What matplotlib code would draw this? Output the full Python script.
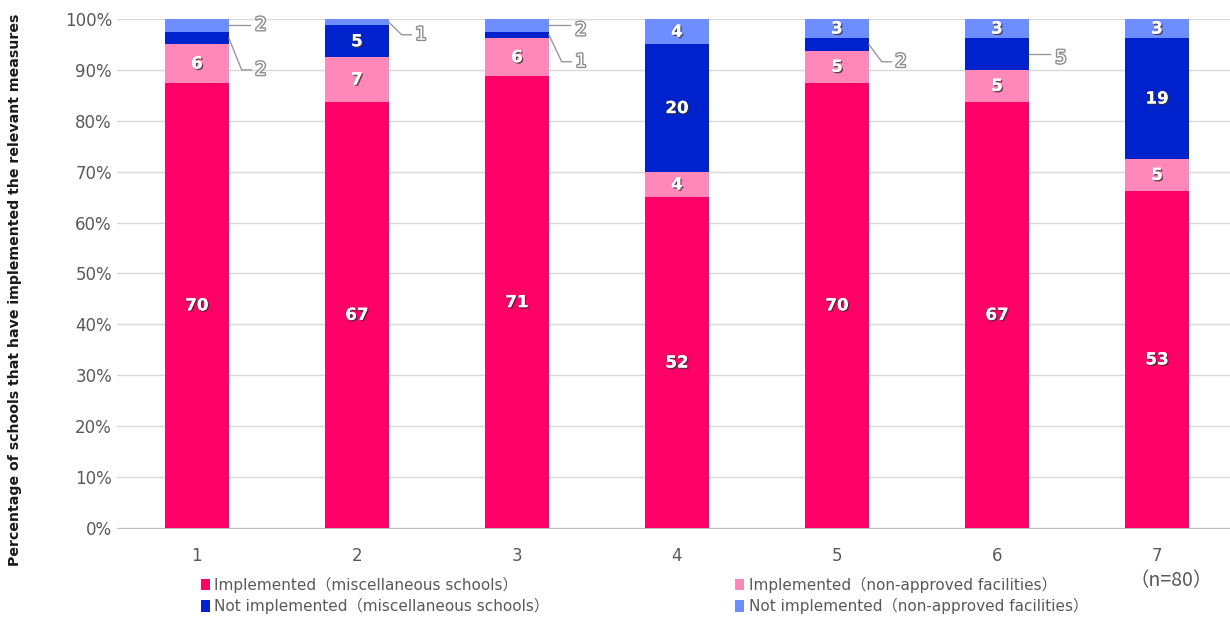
import numpy as np
import matplotlib.pyplot as plt
import matplotlib.patheffects as pe
from matplotlib.patches import Patch

plt.rcParams['font.family'] = ['DejaVu Sans', 'Noto Sans CJK JP']

# Counts per item (n=80 each)
items = ["1", "2", "3", "4", "5", "6", "7"]
impl_misc = [70, 67, 71, 52, 70, 67, 53]
impl_nonapp = [6, 7, 6, 4, 5, 5, 5]
notimpl_misc = [2, 5, 1, 20, 2, 5, 19]
notimpl_nonapp = [2, 1, 2, 4, 3, 3, 3]
n_total = 80

series_names = [
    "Implemented（miscellaneous schools）",
    "Implemented（non-approved facilities）",
    "Not implemented（miscellaneous schools）",
    "Not implemented（non-approved facilities）",
]
colors = ["#FF0066", "#FF88B8", "#0022CC", "#6E8EFF"]

# labels placed outside the bar: (bar index, series index, label height in %)
outside = [
    (0, 3, 98.8), (0, 2, 90.0),
    (1, 3, 96.9),
    (2, 3, 97.8), (2, 2, 91.6),
    (4, 2, 91.6),
    (5, 2, 92.3),
]

data = np.array([impl_misc, impl_nonapp, notimpl_misc, notimpl_nonapp], dtype=float)
pct = data / n_total * 100
x = np.arange(len(items))
width = 0.4

fig = plt.figure(figsize=(12.3, 6.23), dpi=100)
ax = fig.add_axes([0.095, 0.1525, 0.905, 0.817])

outside_keys = {(b, s) for b, s, _ in outside}
bottom = np.zeros(len(items))
for s in range(4):
    ax.bar(x, pct[s], width, bottom=bottom, color=colors[s], zorder=2)
    for b in range(len(items)):
        if (b, s) in outside_keys:
            continue
        yc = bottom[b] + pct[s][b] / 2
        ax.text(x[b], yc, f"{int(data[s][b])}", ha="center", va="center",
                color="white", fontsize=12, fontweight="bold", zorder=4,
                path_effects=[pe.withSimplePatchShadow(offset=(1, -1), shadow_rgbFace="#333333", alpha=0.8),
                              pe.Normal()])
    bottom += pct[s]

# small segments: value labels to the right with leader lines
cum = np.cumsum(pct, axis=0) - pct
for b, s, ylab in outside:
    yc = cum[s][b] + pct[s][b] / 2
    xe = x[b] + width / 2
    if abs(ylab - yc) < 1.5:
        ax.plot([xe, xe + 0.13], [yc, yc], color="#999999", lw=1, zorder=3)
    else:
        ax.plot([xe, xe + 0.08, xe + 0.14], [yc, ylab, ylab], color="#999999", lw=1, zorder=3)
    ax.text(x[b] + 0.4, ylab, f"{int(data[s][b])}", ha="center", va="center",
            color="white", fontsize=13, zorder=4,
            path_effects=[pe.withStroke(linewidth=2, foreground="#8c8c8c")])

ax.set_xlim(-0.5, 6.456)
ax.set_ylim(0, 100)
ax.set_yticks(np.arange(0, 101, 10))
ax.set_yticklabels([f"{v}%" for v in range(0, 101, 10)])
ax.set_xticks(x)
ax.set_xticklabels(items)
ax.tick_params(axis="both", length=0, labelsize=12, colors="#595959")
ax.tick_params(axis="x", pad=14)
ax.grid(axis="y", color="#d9d9d9", lw=1, zorder=0)
for side in ["top", "right", "left"]:
    ax.spines[side].set_visible(False)
ax.spines["bottom"].set_color("#bfbfbf")
ax.spines["bottom"].set_zorder(1)

fig.text(0.012, 0.535, "Percentage of schools that have implemented the relevant measures",
         rotation=90, ha="center", va="center", fontsize=10.2, fontweight="bold", color="#1a1a1a")

# legend fills column by column, so order the entries to read row by row
order = [0, 2, 1, 3]
handles = [Patch(facecolor=colors[i], edgecolor="none") for i in order]
labels = [series_names[i] for i in order]
fig.legend(handles, labels, ncol=2, loc="lower left", bbox_to_anchor=(0.152, -0.008),
           frameon=False, handlelength=0.6, handleheight=0.8, handletextpad=0.3,
           columnspacing=12.15, labelspacing=0.35, labelcolor="#595959",
           prop={"family": ["DejaVu Sans", "Noto Sans CJK JP"], "size": 11})
fig.text(0.952, 0.068, "（n=80）", ha="center", va="center", fontsize=14, color="#595959",
         family=["Noto Sans CJK JP", "DejaVu Sans"])

fig.savefig("out.png", dpi=100, facecolor="white")
